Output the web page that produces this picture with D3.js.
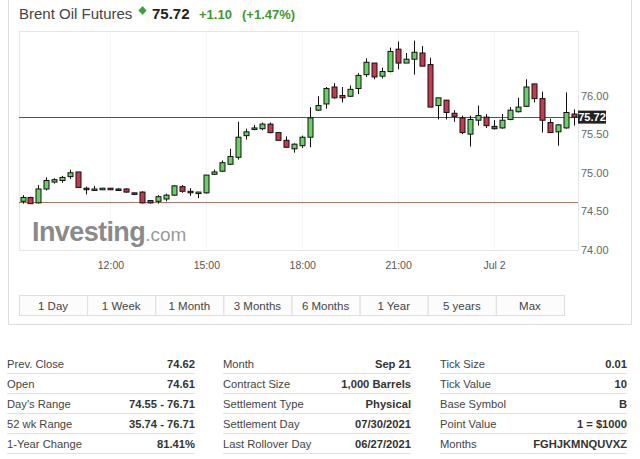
<!DOCTYPE html>
<html><head><meta charset="utf-8">
<script src="https://cdn.jsdelivr.net/npm/d3@7/dist/d3.min.js"></script>
<style>
html,body{margin:0;padding:0;background:#fff;}
svg{display:block;font-family:Arial,"Liberation Sans",sans-serif;}
</style></head>
<body>
<svg id="c" width="640" height="459"></svg>
<script>
// ---- data ----
const times = [
"2021-07-01T09:15","2021-07-01T09:30","2021-07-01T09:45","2021-07-01T10:00","2021-07-01T10:15","2021-07-01T10:30",
"2021-07-01T10:45","2021-07-01T11:00","2021-07-01T11:15","2021-07-01T11:30","2021-07-01T11:45","2021-07-01T12:00",
"2021-07-01T12:15","2021-07-01T12:30","2021-07-01T12:45","2021-07-01T13:00","2021-07-01T13:15","2021-07-01T13:30",
"2021-07-01T13:45","2021-07-01T14:00","2021-07-01T14:15","2021-07-01T14:30","2021-07-01T14:45","2021-07-01T15:00",
"2021-07-01T15:15","2021-07-01T15:30","2021-07-01T15:45","2021-07-01T16:00","2021-07-01T16:15","2021-07-01T16:30",
"2021-07-01T16:45","2021-07-01T17:00","2021-07-01T17:15","2021-07-01T17:30","2021-07-01T17:45","2021-07-01T18:00",
"2021-07-01T18:15","2021-07-01T18:30","2021-07-01T18:45","2021-07-01T19:00","2021-07-01T19:15","2021-07-01T19:30",
"2021-07-01T19:45","2021-07-01T20:00","2021-07-01T20:15","2021-07-01T20:30","2021-07-01T20:45","2021-07-01T21:00",
"2021-07-01T21:15","2021-07-01T21:30","2021-07-01T21:45","2021-07-01T22:00","2021-07-01T22:15","2021-07-01T22:30",
"2021-07-01T22:45","2021-07-01T23:00","2021-07-01T23:15","2021-07-01T23:30","2021-07-01T23:45","2021-07-02T00:00",
"2021-07-02T00:15","2021-07-02T00:30","2021-07-02T00:45","2021-07-02T01:00","2021-07-02T01:15","2021-07-02T01:30",
"2021-07-02T01:45","2021-07-02T02:00","2021-07-02T02:15","2021-07-02T02:30"];
const open  = [74.63,74.68,74.61,74.79,74.88,74.90,74.95,75.01,74.80,74.78,74.78,74.80,74.79,74.79,74.74,74.75,74.64,74.63,74.66,74.71,
  74.82,74.76,74.75,74.74,74.98,75.02,75.11,75.20,75.48,75.58,75.57,75.63,75.52,75.42,75.31,75.35,75.46,75.81,75.89,76.11,
  76.00,75.99,76.09,76.27,76.42,76.25,76.31,76.60,76.42,76.47,76.55,76.40,75.87,75.94,75.77,75.71,75.50,75.68,75.72,75.60,
  75.58,75.69,75.79,75.86,76.15,75.96,75.65,75.53,75.58,75.76];
const high  = [74.71,74.69,74.84,74.94,74.93,74.96,75.04,75.01,74.82,74.83,74.80,74.80,74.80,74.80,74.74,74.76,74.64,74.71,74.73,74.84,
  74.84,74.80,74.75,74.97,75.04,75.16,75.31,75.66,75.57,75.62,75.65,75.65,75.52,75.47,75.38,75.48,75.85,75.99,76.11,76.16,
  76.11,76.13,76.29,76.48,76.42,76.36,76.62,76.70,76.55,76.71,76.64,76.49,75.97,75.94,75.81,75.74,75.74,75.87,75.76,75.68,
  75.76,75.85,75.97,76.21,76.15,76.05,75.70,75.63,76.04,75.82];
const low   = [74.60,74.60,74.60,74.77,74.86,74.87,74.92,74.81,74.72,74.78,74.78,74.78,74.77,74.74,74.71,74.60,74.60,74.60,74.63,74.70,
  74.74,74.70,74.67,74.73,74.97,75.01,75.10,75.17,75.43,75.55,75.55,75.51,75.42,75.32,75.26,75.32,75.33,75.80,75.83,75.96,
  75.91,75.98,76.02,76.24,76.21,76.22,76.30,76.34,76.42,76.27,76.38,75.85,75.69,75.69,75.66,75.50,75.34,75.61,75.58,75.56,
  75.57,75.68,75.78,75.85,75.91,75.52,75.52,75.35,75.57,75.61];
const close = [74.68,74.60,74.79,74.90,74.91,74.94,75.00,74.81,74.79,74.79,74.80,74.78,74.77,74.75,74.72,74.61,74.61,74.69,74.71,74.83,
  74.76,74.75,74.75,74.97,75.01,75.13,75.21,75.46,75.53,75.58,75.63,75.52,75.42,75.33,75.37,75.46,75.71,75.87,76.09,75.97,
  75.97,76.08,76.26,76.43,76.24,76.31,76.57,76.42,76.47,76.56,76.38,75.85,75.97,75.78,75.73,75.52,75.69,75.74,75.61,75.57,
  75.68,75.81,75.85,76.11,75.96,75.68,75.52,75.62,75.78,75.72];
const lastPrice = 75.72;
const prevClose = 74.62;
const yTicks = [74.00, 74.50, 75.00, 75.50, 76.00];
const xTickTimes = ["2021-07-01T12:00","2021-07-01T15:00","2021-07-01T18:00","2021-07-01T21:00","2021-07-02T00:00"];
const xTickLabels = ["12:00","15:00","18:00","21:00","Jul 2"];
const ranges = ["1 Day","1 Week","1 Month","3 Months","6 Months","1 Year","5 years","Max"];
const tableCols = [
  {labels:["Prev. Close","Open","Day's Range","52 wk Range","1-Year Change"],
   values:["74.62","74.61","74.55 - 76.71","35.74 - 76.71","81.41%"]},
  {labels:["Month","Contract Size","Settlement Type","Settlement Day","Last Rollover Day"],
   values:["Sep 21","1,000 Barrels","Physical","07/30/2021","06/27/2021"]},
  {labels:["Tick Size","Tick Value","Base Symbol","Point Value","Months"],
   values:["0.01","10","B","1 = $1000","FGHJKMNQUVXZ"]}
];

// ---- drawing ----
const svg = d3.select("#c");
const parse = d3.timeParse("%Y-%m-%dT%H:%M");
const data = times.map((t,i)=>({t:parse(t),o:open[i],h:high[i],l:low[i],c:close[i]}));

const plot = {l:19, r:578, t:31, b:250};
const x = d3.scaleTime().domain([data[0].t, data[data.length-1].t]).range([22.5, 574]);
const y = d3.scaleLinear().domain([74, 76]).range([250, 95.5]);

// widget frame
svg.append("path").attr("d","M8.5,0V324.5H631.5V0").attr("fill","none").attr("stroke","#dcdcdc");

// header
const hdr = svg.append("g");
hdr.append("text").attr("x",19).attr("y",19).attr("font-size",15).attr("fill","#444").text("Brent Oil Futures");
hdr.append("path").attr("d","M142.5,6 L146.5,10.5 L142.5,15 L138.5,10.5Z").attr("fill","#3aa03a");
hdr.append("text").attr("x",152).attr("y",19).attr("font-size",15).attr("font-weight","bold").attr("fill","#222").text(d3.format(".2f")(lastPrice));
hdr.append("text").attr("x",199).attr("y",19).attr("font-size",13).attr("font-weight","bold").attr("fill","#3c9a2e").text("+1.10");
hdr.append("text").attr("x",242).attr("y",19).attr("font-size",13).attr("font-weight","bold").attr("fill","#3c9a2e").text("(+1.47%)");

// plot border
svg.append("rect").attr("x",plot.l+0.5).attr("y",plot.t+0.5).attr("width",plot.r-plot.l).attr("height",plot.b-plot.t)
  .attr("fill","#fff").attr("stroke","#e6e6e6");

// faint grid
svg.append("g").selectAll("line").data(xTickTimes).join("line")
  .attr("x1",d=>Math.round(x(parse(d)))+0.5).attr("x2",d=>Math.round(x(parse(d)))+0.5)
  .attr("y1",plot.t+1).attr("y2",plot.b).attr("stroke","#f6f6f6");

// logo watermark
const logo = svg.append("text").attr("x",32).attr("y",241);
logo.append("tspan").attr("font-size",27).attr("font-weight","bold").attr("fill","#8a8a8a").attr("letter-spacing","-0.6").text("Investing");
logo.append("tspan").attr("font-size",19).attr("fill","#9a9a9a").text(".com");

// prev close & last price lines
svg.append("line").attr("x1",plot.l).attr("x2",plot.r).attr("y1",Math.round(y(prevClose))+0.5).attr("y2",Math.round(y(prevClose))+0.5)
  .attr("stroke","#a87566").attr("stroke-width",1.2);
svg.append("line").attr("x1",plot.l).attr("x2",plot.r).attr("y1",Math.round(y(lastPrice))+0.5).attr("y2",Math.round(y(lastPrice))+0.5)
  .attr("stroke","#555").attr("stroke-width",1.2);

// candles
const bw = 5;
const cg = svg.append("g").selectAll("g").data(data).join("g");
cg.append("line")
  .attr("x1",d=>Math.round(x(d.t))+0.5).attr("x2",d=>Math.round(x(d.t))+0.5)
  .attr("y1",d=>y(d.h)).attr("y2",d=>y(d.l)).attr("stroke","#111").attr("stroke-width",1);
cg.append("rect")
  .attr("x",d=>Math.round(x(d.t))-bw/2+0.5)
  .attr("y",d=>y(Math.max(d.o,d.c)))
  .attr("width",bw)
  .attr("height",d=>Math.max(1.5,Math.abs(y(d.o)-y(d.c))))
  .attr("fill",d=>d.c>=d.o?"#68d163":"#c9384f")
  .attr("stroke","#111").attr("stroke-width",1);

// y axis
const ya = svg.append("g").attr("transform",`translate(${plot.r},0)`)
  .call(d3.axisRight(y).tickValues(yTicks).tickFormat(d3.format(".2f")).tickSize(0).tickPadding(3));
ya.select(".domain").remove();
ya.selectAll("text").attr("font-size",11).attr("fill","#666").attr("font-family",null);

// last price tag
svg.append("rect").attr("x",plot.r).attr("y",y(lastPrice)-6.5).attr("width",28).attr("height",13).attr("fill","#222");
svg.append("text").attr("x",plot.r+14).attr("y",y(lastPrice)+4).attr("text-anchor","middle")
  .attr("font-size",11).attr("font-weight","bold").attr("fill","#fff").text(d3.format(".2f")(lastPrice));

// x axis
const xa = svg.append("g").attr("transform",`translate(0,${plot.b})`)
  .call(d3.axisBottom(x).tickValues(xTickTimes.map(parse)).tickFormat((d,i)=>xTickLabels[i]).tickSize(0).tickPadding(12));
xa.select(".domain").remove();
xa.selectAll("text").attr("font-size",10.5).attr("fill","#555").attr("font-family",null);

// range buttons
const bx = d3.scaleBand().domain(ranges).range([19,564]);
const bg = svg.append("g").selectAll("g").data(ranges).join("g");
bg.append("rect").attr("x",d=>bx(d)+0.5).attr("y",295.5).attr("width",bx.bandwidth()).attr("height",20)
  .attr("fill","#fcfcfc").attr("stroke","#dedede");
bg.append("text").attr("x",d=>bx(d)+bx.bandwidth()/2).attr("y",309.5).attr("text-anchor","middle")
  .attr("font-size",11.5).attr("fill","#444").text(d=>d);

// table
const colX = [[7,195],[223,411],[440,627]];
tableCols.forEach((col,ci)=>{
  const g = svg.append("g");
  col.labels.forEach((lab,ri)=>{
    const by = 368 + ri*20;
    g.append("text").attr("x",colX[ci][0]).attr("y",by).attr("font-size",11.2).attr("fill","#444").text(lab);
    g.append("text").attr("x",colX[ci][1]).attr("y",by).attr("text-anchor","end").attr("font-size",11.2)
      .attr("font-weight","bold").attr("fill","#333").text(col.values[ri]);
    g.append("line").attr("x1",colX[ci][0]).attr("x2",colX[ci][1]).attr("y1",by+5.5).attr("y2",by+5.5).attr("stroke","#e2e2e2");
  });
});
</script>
</body></html>
